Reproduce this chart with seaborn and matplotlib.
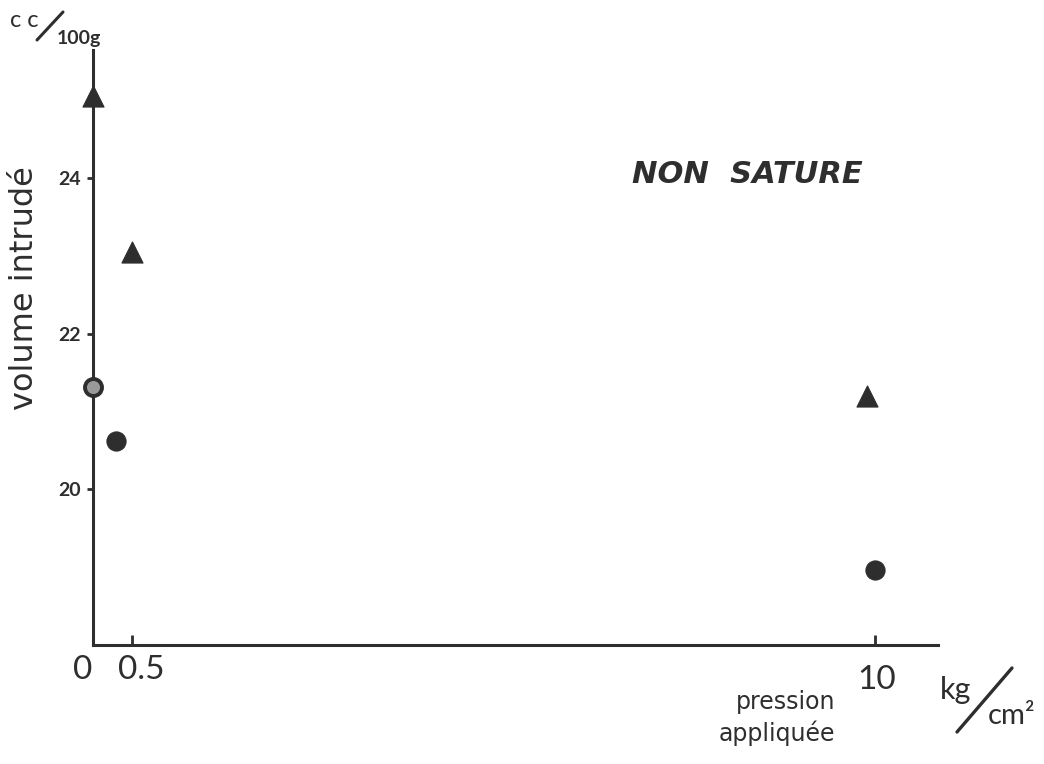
import matplotlib
matplotlib.use("Agg")
import matplotlib.pyplot as plt
import matplotlib.transforms as mtransforms
from matplotlib.lines import Line2D
import seaborn as sns
import pandas as pd

# Data
tri_x = [0.0, 0.5, 9.9]
tri_y = [25.05, 23.05, 21.2]
filled_x = [0.3, 10.0]
filled_y = [20.62, 18.96]
open_x = [0.0]
open_y = [21.32]

x_ticks = [0, 0.5, 10]
x_tick_labels = ["0", "0.5", "10"]
y_ticks = [20, 22, 24]
y_tick_labels = ["20", "22", "24"]

INK = "#2e2e2e"

sns.set_theme(style="white")
plt.rcParams["font.family"] = ["Lato", "DejaVu Sans"]

fig = plt.figure(figsize=(10.44, 7.64), dpi=100)
ax = fig.add_axes([0.089, 0.156, 0.809, 0.779])

df_tri = pd.DataFrame({"x": tri_x, "y": tri_y})
df_fill = pd.DataFrame({"x": filled_x, "y": filled_y})
df_open = pd.DataFrame({"x": open_x, "y": open_y})

sns.scatterplot(data=df_tri, x="x", y="y", marker="^", s=230, color=INK,
                edgecolor=INK, linewidth=0.8, ax=ax, clip_on=False, zorder=5)
sns.scatterplot(data=df_fill, x="x", y="y", marker="o", s=190, color=INK,
                edgecolor=INK, linewidth=0.8, ax=ax, clip_on=False, zorder=5)
sns.scatterplot(data=df_open, x="x", y="y", marker="o", s=150, color="#9a9a9a",
                edgecolor=INK, linewidth=2.8, ax=ax, clip_on=False, zorder=6)

ax.set_xlim(0, 10.8)
ax.set_ylim(18.0, 25.65)

sns.despine(ax=ax, top=True, right=True)
for side in ["left", "bottom"]:
    ax.spines[side].set_color(INK)
    ax.spines[side].set_linewidth(2.2)

ax.set_xticks(x_ticks)
ax.set_xticklabels(x_tick_labels, fontsize=24, color=INK, fontweight="normal")
ax.set_yticks(y_ticks)
ax.set_yticklabels(y_tick_labels, fontsize=14, fontweight="bold", color=INK)
ax.tick_params(axis="x", direction="in", length=7, width=2, color=INK, pad=7,
               bottom=True)
ax.tick_params(axis="y", direction="out", length=4, width=2, color=INK, pad=5,
               left=True)

# small per-label offsets (pixels) to mimic hand lettering placement
offsets = [(-10, 0), (9, 0), (2, -10)]
for lab, (dx, dy) in zip(ax.get_xticklabels(), offsets):
    lab.set_transform(lab.get_transform() +
                      mtransforms.ScaledTranslation(dx / 100, dy / 100, fig.dpi_scale_trans))

ax.set_xlabel("")
ax.set_ylabel("volume intrudé", fontsize=23, color=INK,
              family=["DejaVu Sans"])
ax.yaxis.set_label_coords(-0.063, 0.60)

# units at top of y axis: c c / 100g
fig.text(0.010, 0.973, "c c", fontsize=17, color=INK, ha="left", va="center")
fig.add_artist(Line2D([37 / 1044, 63 / 1044], [1 - 40 / 764, 1 - 12 / 764],
                      color=INK, lw=2.2))
fig.text(0.054, 0.950, "100g", fontsize=14, color=INK, ha="left", va="center",
         fontweight="bold")

ax.text(0.775, 0.79, "NON  SATURE", transform=ax.transAxes, fontsize=22,
        fontweight="bold", fontstyle="italic", color=INK, ha="center", va="center",
        family=["DejaVu Sans"])

fig.text(0.800, 0.060, "pression\nappliquée", fontsize=17, color=INK, ha="right",
         va="center", linespacing=1.35, family=["DejaVu Sans"])
fig.text(0.900, 0.097, "kg", fontsize=22, color=INK, ha="left", va="center")
fig.add_artist(Line2D([957 / 1044, 1012 / 1044], [1 - 732 / 764, 1 - 668 / 764],
                      color=INK, lw=2.4))
fig.text(0.946, 0.063, "cm²", fontsize=21, color=INK, ha="left", va="center")

ax.set_facecolor("white")
fig.patch.set_facecolor("white")
fig.savefig("out.png", dpi=100, facecolor="white")
